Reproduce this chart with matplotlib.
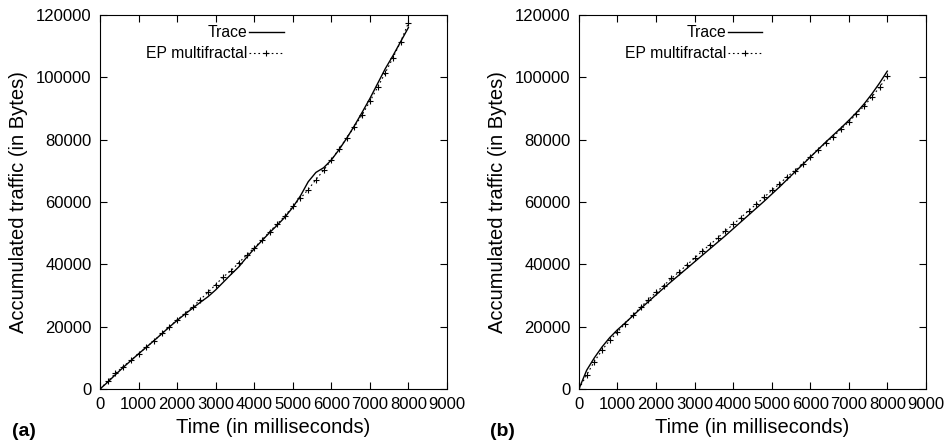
import numpy as np
import matplotlib
matplotlib.use('Agg')
import matplotlib.pyplot as plt

plt.rcParams['font.family'] = ['Liberation Sans', 'DejaVu Sans']

# time axis (ms), one sample every 200 ms
time_ms = np.arange(0, 8001, 200)

# panel (a)
trace_a = [0, 2200, 4600, 6900, 9100, 11300, 13400, 15500, 17700, 19900,
           22000, 24000, 25900, 27800, 29600, 31800, 34300, 36800, 39200, 42200,
           45000, 47600, 50200, 52600, 55200, 58300, 62000, 66500, 69500, 71000,
           73500, 76800, 80500, 84500, 88800, 93200, 98000, 102800, 107000, 111500,
           116000]
ep_a = [0, 2500, 5000, 7200, 9200, 11300, 13400, 15500, 17800, 20000,
        22200, 24200, 26300, 28700, 31000, 33500, 36000, 38000, 40500, 43000,
        45300, 47800, 50500, 53000, 55600, 58600, 61200, 64000, 67200, 70200,
        73500, 77000, 80600, 84200, 88000, 92300, 96800, 101500, 106300, 111500,
        117500]

# panel (b)
trace_b = [0, 6000, 10000, 13500, 16500, 19000, 21200, 23500, 25800, 28000,
           30200, 32400, 34500, 36600, 38700, 40800, 42900, 45000, 47100, 49200,
           51400, 53600, 55800, 58000, 60200, 62500, 64800, 67200, 69600, 72000,
           74400, 76800, 79200, 81500, 83800, 86200, 88700, 91500, 94700, 98200,
           102000]
ep_b = [0, 4500, 8800, 12500, 15600, 18300, 21000, 23700, 26200, 28700,
        31000, 33200, 35500, 37600, 39800, 42000, 44300, 46300, 48500, 50700,
        52800, 55000, 57200, 59300, 61500, 63700, 65800, 68100, 70100, 72200,
        74500, 76700, 79000, 81000, 83400, 85700, 88300, 90800, 93800, 96800,
        100500]

panels = [('(a)', trace_a, ep_a), ('(b)', trace_b, ep_b)]
lefts = [0.105, 0.6075]

fig = plt.figure(figsize=(9.53, 4.44), dpi=100)

for (tag, trace, ep), left in zip(panels, lefts):
    ax = fig.add_axes([left, 0.124, 0.364, 0.842])
    ax.plot(time_ms, trace, color='black', lw=1.0, label='Trace')
    ax.plot(time_ms, ep, color='black', lw=0.8, ls=(0, (1.5, 2.5)),
            marker='+', ms=5, mew=0.8, label='EP multifractal')
    ax.set_xlim(0, 9000)
    ax.set_ylim(0, 120000)
    ax.set_xticks(np.arange(0, 9001, 1000))
    ax.set_yticks(np.arange(0, 120001, 20000))
    ax.tick_params(direction='in', top=True, right=True, length=5,
                   labelsize=12, pad=6)
    ax.set_xlabel('Time (in milliseconds)', fontsize=14.5, labelpad=4)
    ax.set_ylabel('Accumulated traffic (in Bytes)', fontsize=14.5, labelpad=6)
    ax.legend(loc='upper right', bbox_to_anchor=(0.547, 0.99), frameon=False,
              markerfirst=False, fontsize=11.3, handlelength=2.2,
              handletextpad=0.1, labelspacing=0.4, borderaxespad=0.0)
    ax.text(-0.255, -0.115, tag, transform=ax.transAxes, fontsize=14,
            fontweight='bold', va='center', ha='left')

fig.savefig('out.png', dpi=100)
